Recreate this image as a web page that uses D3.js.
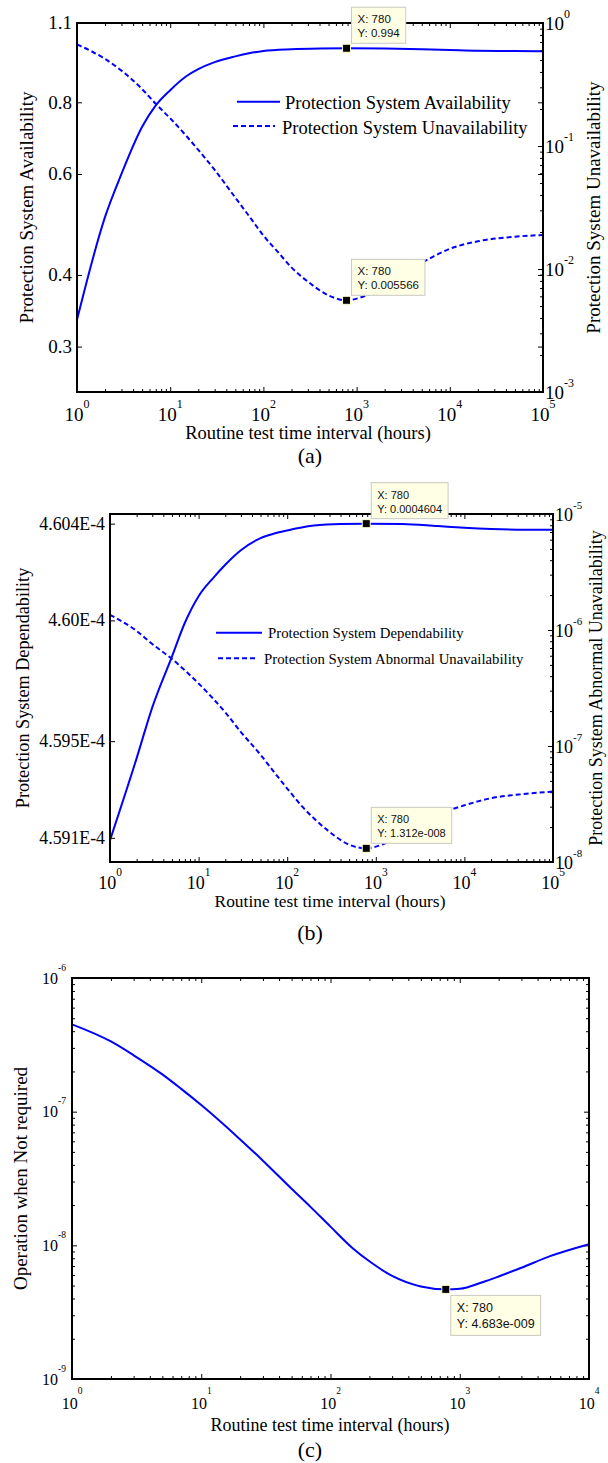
<!DOCTYPE html>
<meta charset="utf-8">
<head>
<style>
  body { margin: 0; background: #fff; }
  svg text { font-family: "Liberation Serif", "Times New Roman", serif; fill: #000; }
  svg .tip text { font-family: "Liberation Sans", Arial, sans-serif; fill: #111; }
  .tick line { stroke: #000; stroke-width: 1; }
</style>
<title>Protection system availability vs routine test interval</title>
</head>
<svg width="608" height="1463"></svg>
<script src="https://cdn.jsdelivr.net/npm/d3@7/dist/d3.min.js"></script>
<script>

// ---- data ----
// (a)
var hoursA1 = [1, 2, 3, 5, 7, 10, 15, 20, 30, 50, 70, 100, 200, 400, 780, 2000, 5000, 10000, 20000, 50000, 100000];
var availA  = [0.334, 0.505, 0.60, 0.725, 0.79, 0.84, 0.889, 0.914, 0.94, 0.962, 0.974, 0.983, 0.990, 0.993, 0.994, 0.993, 0.990, 0.987, 0.984, 0.983, 0.982];
var hoursA2 = [1, 2, 3, 5, 7, 10, 15, 20, 30, 50, 70, 100, 150, 200, 300, 500, 780, 1200, 2000, 3000, 5000, 10000, 20000, 50000, 100000];
var unavailA = [0.67, 0.51, 0.41, 0.29, 0.22, 0.168, 0.12, 0.093, 0.064, 0.038, 0.027, 0.0187, 0.0132, 0.0103, 0.0079, 0.0061, 0.005566, 0.0060, 0.0072, 0.0088, 0.0112, 0.0146, 0.0168, 0.0183, 0.0189];

// (b)
var hoursB1 = [1, 2, 3, 5, 7, 10, 15, 20, 30, 50, 70, 100, 200, 400, 780, 2000, 5000, 10000, 20000, 50000, 100000];
var dependB = [4.5909e-4, 4.5943e-4, 4.5964e-4, 4.5985e-4, 4.5999e-4, 4.6010e-4, 4.6018e-4, 4.6023e-4, 4.6029e-4, 4.6034e-4, 4.60358e-4, 4.60372e-4, 4.60392e-4, 4.60399e-4, 4.6040e-4, 4.60399e-4, 4.6039e-4, 4.60383e-4, 4.60378e-4, 4.60375e-4, 4.60375e-4];
var hoursB2 = [1, 2, 3, 5, 7, 10, 15, 20, 30, 50, 70, 100, 150, 200, 300, 500, 780, 1200, 2000, 3000, 5000, 10000, 20000, 50000, 100000];
var abnormB = [1.35e-6, 9.8e-7, 7.57e-7, 5.63e-7, 4.49e-7, 3.46e-7, 2.5e-7, 1.95e-7, 1.32e-7, 8.4e-8, 6.05e-8, 4.3e-8, 2.97e-8, 2.38e-8, 1.82e-8, 1.41e-8, 1.312e-8, 1.42e-8, 1.75e-8, 2.05e-8, 2.55e-8, 3.08e-8, 3.55e-8, 3.87e-8, 4.05e-8];

// (c)
var hoursC = [1, 2, 3, 5, 7, 10, 20, 30, 50, 70, 100, 150, 200, 300, 500, 780, 1000, 1500, 2000, 3000, 5000, 10000];
var onrC   = [4.5e-7, 3.35e-7, 2.64e-7, 1.9e-7, 1.48e-7, 1.12e-7, 6.2e-8, 4.3e-8, 2.65e-8, 1.94e-8, 1.38e-8, 9.44e-9, 7.6e-9, 5.9e-9, 4.92e-9, 4.683e-9, 4.73e-9, 5.3e-9, 5.85e-9, 6.8e-9, 8.3e-9, 1.02e-8];

// tick labels
var leftTicksA  = [0.3, 0.4, 0.6, 0.8, 1.1];
var leftLabelsA = ["0.3", "0.4", "0.6", "0.8", "1.1"];
var leftTicksB  = [4.591e-4, 4.595e-4, 4.600e-4, 4.604e-4];
var leftLabelsB = ["4.591E-4", "4.595E-4", "4.60E-4", "4.604E-4"];

// data tips
var tipsA = [{x: 780, y: 0.994, axis: "left", text: ["X: 780", "Y: 0.994"]},
             {x: 780, y: 0.005566, axis: "right", text: ["X: 780", "Y: 0.005566"]}];
var tipsB = [{x: 780, y: 4.604e-4, axis: "left", text: ["X: 780", "Y: 0.0004604"]},
             {x: 780, y: 1.312e-8, axis: "right", text: ["X: 780", "Y: 1.312e-008"]}];
var tipsC = [{x: 780, y: 4.683e-9, axis: "left", text: ["X: 780", "Y: 4.683e-009"]}];

var svg = d3.select("svg");
var blue = "#0000ff";

function isPow10(v) {
  var l = Math.log10(v);
  return Math.abs(l - Math.round(l)) < 1e-6;
}

// inward tick marks (MATLAB "box on" look)
function ticks(g, axisFn, scale, values, size, pos, horizontal) {
  g.append("g")
    .attr("transform", horizontal ? "translate(0," + pos + ")" : "translate(" + pos + ",0)")
    .call(axisFn(scale).tickValues(values).tickSize(-size).tickFormat(""))
    .select(".domain").remove();
}

function logTicks(g, scale, horizontal, p, sides) {
  var all = scale.ticks();
  var maj = all.filter(isPow10), min = all.filter(function(v) { return !isPow10(v); });
  if (horizontal) {
    [[d3.axisBottom, p.B], [d3.axisTop, p.T]].forEach(function(a) {
      ticks(g, a[0], scale, min, 3, a[1], true);
      ticks(g, a[0], scale, maj, 5, a[1], true);
    });
  } else {
    sides.forEach(function(a) {
      ticks(g, a[0], scale, min, 3, a[1], false);
      ticks(g, a[0], scale, maj, 5, a[1], false);
    });
  }
  return maj;
}

function powText(g, x, y, exp, size, supSize, raise, anchor) {
  var t = g.append("text").attr("x", x).attr("y", y)
    .attr("font-size", size).attr("text-anchor", anchor);
  t.append("tspan").text("10");
  t.append("tspan").attr("font-size", supSize).attr("dy", -raise).text(exp);
  return t;
}

function vLabel(g, cx, cy, size, txt) {
  g.append("text")
    .attr("transform", "translate(" + cx + "," + cy + ") rotate(-90)")
    .attr("text-anchor", "middle").attr("dy", "0.25em")
    .attr("font-size", size).text(txt);
}

function hLabel(g, cx, y, size, txt) {
  g.append("text").attr("x", cx).attr("y", y)
    .attr("text-anchor", "middle").attr("font-size", size).text(txt);
}

function curve(g, x, y, xs, ys, dashed) {
  var line = d3.line()
    .x(function(d) { return x(d[0]); })
    .y(function(d) { return y(d[1]); })
    .curve(d3.curveMonotoneX);
  g.append("path").datum(d3.zip(xs, ys))
    .attr("d", line).attr("fill", "none")
    .attr("stroke", blue).attr("stroke-width", 2)
    .attr("stroke-dasharray", dashed ? "5,3" : null);
}

function dataTip(g, mx, my, lines, fs, below) {
  var tg = g.append("g").attr("class", "tip");
  var box = tg.append("rect").attr("fill", "#ffffe6").attr("stroke", "#c9c9c0").attr("stroke-width", 1);
  var h = below ? 40 : 36;
  var left = mx + 5, top = below ? my + 6 : my - 5 - h;
  var gap = below ? 16 : 14;
  var w = 0;
  lines.forEach(function(s, i) {
    var t = tg.append("text").attr("x", left + 6).attr("y", top + 12 + i * gap)
      .attr("dy", "0.36em").attr("font-size", fs).text(s);
    w = Math.max(w, t.node().getComputedTextLength());
  });
  box.attr("x", left).attr("y", top).attr("width", w + 12).attr("height", h);
  tg.append("rect").attr("x", mx - 4).attr("y", my - 4).attr("width", 8).attr("height", 8)
    .attr("fill", "#000").attr("stroke", "#ffffd0").attr("stroke-width", 1);
}

function border(g, p) {
  g.append("rect").attr("x", p.L).attr("y", p.T).attr("width", p.R - p.L).attr("height", p.B - p.T)
    .attr("fill", "none").attr("stroke", "#000").attr("stroke-width", 2);
}

function legend(g, items, fs) {
  items.forEach(function(it) {
    g.append("line").attr("x1", it.x1).attr("x2", it.x2).attr("y1", it.ly).attr("y2", it.ly)
      .attr("stroke", blue).attr("stroke-width", 2)
      .attr("stroke-dasharray", it.dashed ? "5,3" : null);
    g.append("text").attr("x", it.tx).attr("y", it.ty).attr("font-size", fs).text(it.label);
  });
}

// ================= (a) =================
(function() {
  var p = {L: 77, R: 543, T: 23, B: 392};
  var g = svg.append("g");
  var x = d3.scaleLog().domain([1, 1e5]).range([p.L, p.R]);
  var yL = d3.scaleLog().domain([0.25, 1.1]).range([p.B, p.T]);
  var yR = d3.scaleLog().domain([1e-3, 1]).range([p.B, p.T]);

  var xMaj = logTicks(g, x, true, p);
  ticks(g, d3.axisLeft, yL, leftTicksA, 5, p.L, false);
  ticks(g, d3.axisRight, yL, leftTicksA, 5, p.R, false);
  var yMaj = logTicks(g, yR, false, p, [[d3.axisRight, p.R]]);

  curve(g, x, yL, hoursA1, availA, false);
  curve(g, x, yR, hoursA2, unavailA, true);
  border(g, p);

  xMaj.forEach(function(v) {
    powText(g, x(v), p.B + 29, String(Math.round(Math.log10(v))), 19, 12, 13, "middle");
  });
  leftTicksA.forEach(function(v, i) {
    g.append("text").attr("x", p.L - 5).attr("y", yL(v)).attr("dy", "0.34em")
      .attr("text-anchor", "end").attr("font-size", 19).text(leftLabelsA[i]);
  });
  yMaj.forEach(function(v) {
    powText(g, p.R + 2, yR(v) + 6.5, String(Math.round(Math.log10(v))), 19, 12, 12, "start");
  });

  vLabel(g, 28.5, (p.T + p.B) / 2, 19, "Protection System Availability");
  vLabel(g, 595, (p.T + p.B) / 2, 19, "Protection System Unavailability");
  hLabel(g, 308, 439, 18.5, "Routine test time interval (hours)");
  hLabel(g, 310, 463, 22, "(a)");

  legend(g, [
    {x1: 237, x2: 280, ly: 101.7, tx: 285, ty: 109, label: "Protection System Availability", dashed: false},
    {x1: 233, x2: 275, ly: 126, tx: 282, ty: 134, label: "Protection System Unavailability", dashed: true}
  ], 18.5);

  tipsA.forEach(function(t) {
    var y = t.axis == "left" ? yL : yR;
    dataTip(g, x(t.x), y(t.y), t.text, 11.5, false);
  });
})();

// ================= (b) =================
(function() {
  var p = {L: 110, R: 553, T: 514, B: 862};
  var g = svg.append("g");
  var x = d3.scaleLog().domain([1, 1e5]).range([p.L, p.R]);
  var yL = d3.scaleLinear().domain([4.5900e-4, 4.6044e-4]).range([p.B, p.T]);
  var yR = d3.scaleLog().domain([1e-8, 1e-5]).range([p.B, p.T]);

  var xMaj = logTicks(g, x, true, p);
  ticks(g, d3.axisLeft, yL, leftTicksB, 5, p.L, false);
  var yMaj = logTicks(g, yR, false, p, [[d3.axisRight, p.R]]);

  curve(g, x, yL, hoursB1, dependB, false);
  curve(g, x, yR, hoursB2, abnormB, true);
  border(g, p);

  xMaj.forEach(function(v) {
    powText(g, x(v), p.B + 27, String(Math.round(Math.log10(v))), 18, 11.5, 13, "middle");
  });
  leftTicksB.forEach(function(v, i) {
    g.append("text").attr("x", p.L - 5).attr("y", yL(v)).attr("dy", "0.34em")
      .attr("text-anchor", "end").attr("font-size", 17.8).text(leftLabelsB[i]);
  });
  yMaj.forEach(function(v) {
    powText(g, p.R + 2, yR(v) + 6.5, String(Math.round(Math.log10(v))), 18, 11, 12, "start");
  });

  vLabel(g, 24.5, (p.T + p.B) / 2, 18.2, "Protection System Dependability");
  vLabel(g, 597, (p.T + p.B) / 2, 18, "Protection System Abnormal Unavailability");
  hLabel(g, 330, 907, 17.4, "Routine test time interval (hours)");
  hLabel(g, 310, 940, 22, "(b)");

  legend(g, [
    {x1: 216, x2: 262, ly: 632.7, tx: 268, ty: 638.3, label: "Protection System Dependability", dashed: false},
    {x1: 218, x2: 258, ly: 658.3, tx: 264, ty: 664.3, label: "Protection System Abnormal Unavailability", dashed: true}
  ], 14.8);

  tipsB.forEach(function(t) {
    var y = t.axis == "left" ? yL : yR;
    dataTip(g, x(t.x), y(t.y), t.text, 11, false);
  });
})();

// ================= (c) =================
(function() {
  var p = {L: 72, R: 589, T: 978, B: 1379};
  var g = svg.append("g");
  var x = d3.scaleLog().domain([1, 1e4]).range([p.L, p.R]);
  var y = d3.scaleLog().domain([1e-9, 1e-6]).range([p.B, p.T]);

  var xMaj = logTicks(g, x, true, p);
  var yMaj = logTicks(g, y, false, p, [[d3.axisLeft, p.L], [d3.axisRight, p.R]]);

  curve(g, x, y, hoursC, onrC, false);
  border(g, p);

  xMaj.forEach(function(v) {
    powText(g, x(v), p.B + 30, String(Math.round(Math.log10(v))), 16, 9.5, 15, "middle");
  });
  yMaj.forEach(function(v) {
    powText(g, p.L - 6, y(v) + 5.5, String(Math.round(Math.log10(v))), 16, 9.5, 13, "end");
  });

  vLabel(g, 22.5, (p.T + p.B) / 2, 19, "Operation when Not required");
  hLabel(g, 330, 1431, 18, "Routine test time interval (hours)");
  hLabel(g, 310, 1457, 22, "(c)");

  tipsC.forEach(function(t) {
    dataTip(g, x(t.x), y(t.y), t.text, 12.5, true);
  });
})();

</script>
